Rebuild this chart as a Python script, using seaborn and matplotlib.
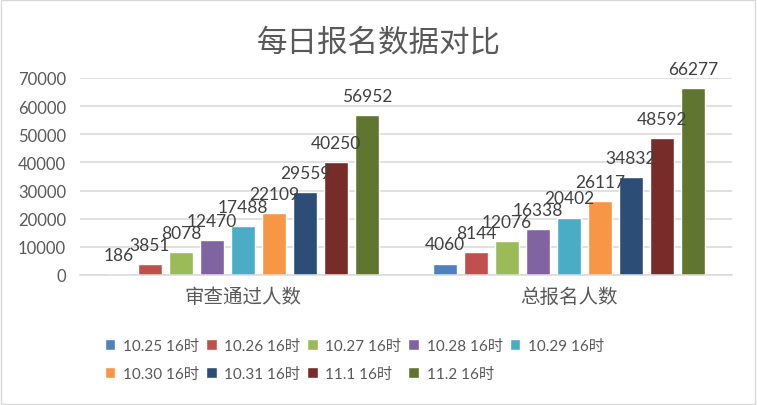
import matplotlib
matplotlib.use('Agg')
import matplotlib.pyplot as plt
import seaborn as sns
import pandas as pd

# data
categories = ['审查通过人数', '总报名人数']
times = ['10.25 16时', '10.26 16时', '10.27 16时', '10.28 16时', '10.29 16时',
         '10.30 16时', '10.31 16时', '11.1 16时', '11.2 16时']
passed = [186, 3851, 8078, 12470, 17488, 22109, 29559, 40250, 56952]
total = [4060, 8144, 12076, 16338, 20402, 26117, 34832, 48592, 66277]

colors = ['#4F81BD', '#C0504D', '#9BBB59', '#8064A2', '#4BACC6',
          '#F79646', '#2C4D75', '#772C2A', '#5F7530']

rows = []
for i, t in enumerate(times):
    rows.append({'类别': categories[0], '时间': t, '人数': passed[i]})
    rows.append({'类别': categories[1], '时间': t, '人数': total[i]})
df = pd.DataFrame(rows)

sns.set_style('white')
plt.rcParams['font.family'] = ['Lato', 'Noto Sans CJK SC', 'DejaVu Sans']

fig = plt.figure(figsize=(7.57, 4.06), dpi=100)
ax = fig.add_axes([80 / 757, 130 / 406, 652 / 757, 197 / 406])

sns.barplot(data=df, x='类别', y='人数', hue='时间', order=categories,
            hue_order=times, palette=colors, saturation=1,
            width=0.856, gap=0.23, ax=ax, legend=True)

for c in ax.containers:
    ax.bar_label(c, padding=8, fontsize=12.5, color='#404040')

ax.set_ylim(0, 70000)
ax.set_xlim(-0.5, 1.5)
ax.set_yticks(range(0, 70001, 10000))
ax.yaxis.grid(True, color='#D9D9D9', linewidth=1.1)
ax.set_axisbelow(True)
for s in ['top', 'right', 'left']:
    ax.spines[s].set_visible(False)
ax.spines['bottom'].set_color('#D9D9D9')
ax.spines['bottom'].set_linewidth(1.1)
ax.tick_params(axis='y', length=0, pad=10, labelsize=12, labelcolor='#595959')
ax.tick_params(axis='x', length=0, pad=8, labelsize=14, labelcolor='#595959')
ax.set_xlabel('')
ax.set_ylabel('')

handles, labels = ax.get_legend_handles_labels()
ax.get_legend().remove()
# legend fills column by column, reorder so it reads row by row
order = [0, 5, 1, 6, 2, 7, 3, 8, 4]
fig.legend([handles[i] for i in order], [labels[i] for i in order],
           ncol=5, loc='center', bbox_to_anchor=(0.468, 0.111),
           frameon=False, fontsize=11, labelcolor='#595959',
           handlelength=0.7, handleheight=0.75, handletextpad=0.5,
           columnspacing=0.45, labelspacing=0.95)

fig.suptitle('每日报名数据对比', y=1 - 42 / 406, va='center', fontsize=22,
             color='#595959')

fig.patches.append(plt.Rectangle((0.001, 0.002), 0.997, 0.995, transform=fig.transFigure,
                                 fill=False, edgecolor='#D9D9D9', linewidth=1))

fig.savefig('out.png', dpi=100)
